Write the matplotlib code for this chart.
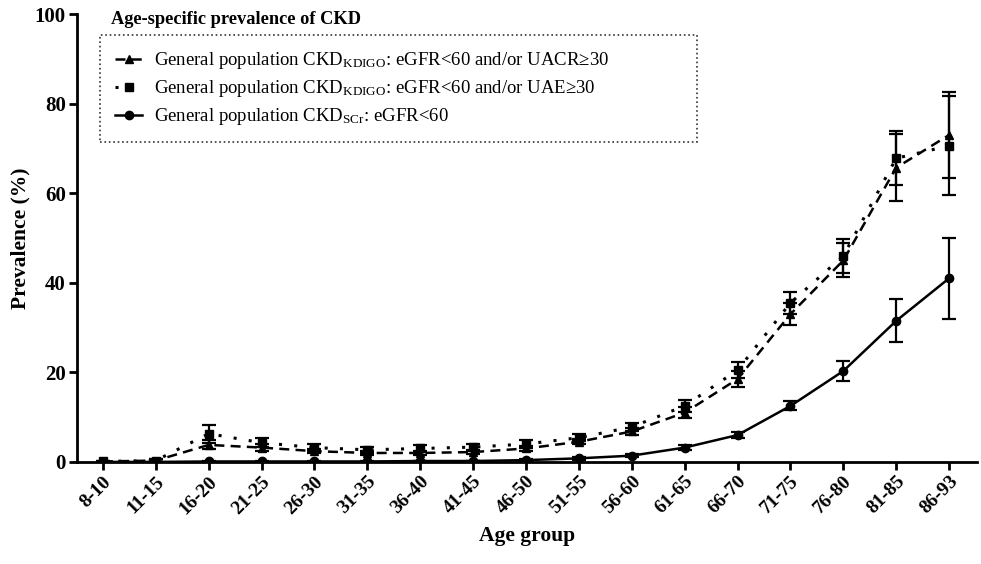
import matplotlib.pyplot as plt
from matplotlib.lines import Line2D
import numpy as np

plt.rcParams['font.family'] = ['Liberation Serif', 'DejaVu Serif']
plt.rcParams['mathtext.fontset'] = 'custom'
plt.rcParams['mathtext.rm'] = 'Liberation Serif'
plt.rcParams['mathtext.it'] = 'Liberation Serif:italic'
plt.rcParams['mathtext.bf'] = 'Liberation Serif:bold'

# Daten
age_groups = ['8-10', '11-15', '16-20', '21-25', '26-30', '31-35', '36-40', '41-45', '46-50',
              '51-55', '56-60', '61-65', '66-70', '71-75', '76-80', '81-85', '86-93']
uacr = [0.1, 0.3, 3.8, 3.2, 2.4, 2.0, 2.0, 2.2, 3.0, 4.5, 6.8, 11.0, 18.5, 33.0, 45.0, 65.7, 73.0]
uacr_err = [0.1, 0.3, 1.0, 0.7, 0.5, 0.4, 0.4, 0.4, 0.5, 0.6, 0.8, 1.2, 1.8, 2.5, 3.8, 7.5, 9.5]
uae = [0.1, 0.3, 6.3, 4.3, 3.2, 2.7, 3.0, 3.3, 4.0, 5.4, 7.8, 12.5, 20.5, 35.5, 46.0, 67.8, 70.6]
uae_err = [0.1, 0.3, 2.0, 1.0, 0.8, 0.7, 0.7, 0.8, 0.8, 0.8, 1.0, 1.3, 1.8, 2.4, 3.8, 6.0, 11.0]
scr = [0.0, 0.0, 0.1, 0.1, 0.1, 0.1, 0.2, 0.2, 0.4, 0.8, 1.4, 3.2, 6.0, 12.5, 20.3, 31.5, 41.0]
scr_err = [0.0, 0.0, 0.1, 0.1, 0.1, 0.1, 0.1, 0.1, 0.2, 0.3, 0.3, 0.5, 0.6, 1.0, 2.3, 4.8, 9.0]

x = np.arange(len(age_groups))

fig = plt.figure(figsize=(9.81, 5.64), dpi=100)
ax = fig.add_axes([0.0785, 0.181, 0.917, 0.794])

common = dict(color='black', ecolor='black', elinewidth=1.6, capsize=5, capthick=1.6, lw=1.8)
h3 = ax.errorbar(x, scr, yerr=scr_err, fmt='-', marker='o', ms=6, **common)
h2 = ax.errorbar(x, uae, yerr=uae_err, fmt=':', marker='s', ms=6, **common)
h1 = ax.errorbar(x, uacr, yerr=uacr_err, fmt='--', marker='^', ms=6, **common)
h1[0].set_dashes([4, 2.5])
h2[0].set_dashes([1, 4])
h2[0].set_linewidth(2.2)

ax.set_xlim(-0.49, 16.52)
ax.set_ylim(0, 100)
ax.set_yticks([0, 20, 40, 60, 80, 100])
ax.set_xticks(x)
ax.set_xticklabels(age_groups, rotation=45, ha='right', rotation_mode='anchor',
                   fontsize=14, fontweight='bold')
for lbl in ax.get_yticklabels():
    lbl.set_fontsize(15)
    lbl.set_fontweight('bold')

for s in ['top', 'right']:
    ax.spines[s].set_visible(False)
for s in ['left', 'bottom']:
    ax.spines[s].set_linewidth(2)
ax.tick_params(axis='both', width=2, length=6, direction='out', pad=2)

ax.set_ylabel('Prevalence (%)', fontsize=15.5, fontweight='bold', labelpad=3)
ax.set_xlabel('Age group', fontsize=15.5, fontweight='bold', labelpad=6)

ax.text(0.038, 0.988, 'Age-specific prevalence of CKD', transform=ax.transAxes,
        fontsize=13.2, fontweight='bold', va='center', ha='left')

# Legende ohne Fehlerbalken
handles = [
    Line2D([0], [0], color='black', lw=1.8, dashes=[4, 2.5], marker='^', ms=6),
    Line2D([0], [0], color='black', lw=2.2, dashes=[1, 4], marker='s', ms=6),
    Line2D([0], [0], color='black', lw=1.8, marker='o', ms=6),
]
labels = [r'General population CKD$_{\mathrm{KDIGO}}$: eGFR<60 and/or UACR≥30',
          r'General population CKD$_{\mathrm{KDIGO}}$: eGFR<60 and/or UAE≥30',
          r'General population CKD$_{\mathrm{SCr}}$: eGFR<60']
leg = ax.legend(handles, labels, loc='upper left', bbox_to_anchor=(0.026, 0.723, 0.663, 0.23),
                mode='expand', fontsize=13.5, frameon=True, fancybox=False, handlelength=1.4,
                borderpad=0.8, labelspacing=0.38, handletextpad=0.65, borderaxespad=0)
leg.get_frame().set_edgecolor('black')
leg.get_frame().set_linestyle(':')
leg.get_frame().set_linewidth(1.2)

fig.savefig('out.png', dpi=100)
